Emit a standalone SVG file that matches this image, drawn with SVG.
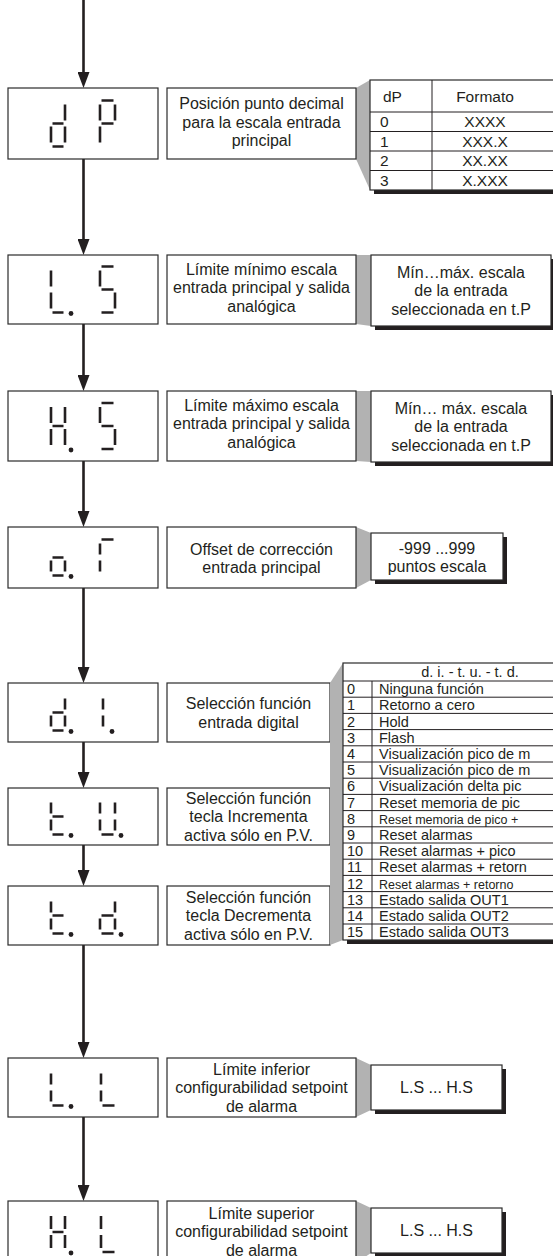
<svg xmlns="http://www.w3.org/2000/svg" width="553" height="1256" viewBox="0 0 553 1256">
<defs>
<style>
.bg{fill:#fff}
.box{fill:#fff;stroke:#2b2b2b;stroke-width:1.2}
.shadow{fill:#231f20}
.funnel{fill:#b2b2b2}
.seg{fill:none;stroke:#231f20;stroke-width:2.6;stroke-linecap:butt}
.dot{fill:#231f20}
.txt{font-family:"Liberation Sans",Arial,Helvetica,sans-serif;font-size:16px;fill:#231f20;text-anchor:middle}
.tab{font-family:"Liberation Sans",Arial,Helvetica,sans-serif;font-size:14.5px;fill:#231f20}
.mid{text-anchor:middle}
.small{font-size:12.5px}
.grid{fill:none;stroke:#231f20;stroke-width:1}
.conn{fill:none;stroke:#231f20;stroke-width:2.6}
</style>
<marker id="arrow" markerUnits="userSpaceOnUse" markerWidth="16" markerHeight="12" refX="8" refY="6" orient="auto">
<path d="M0,0 L16,6 L0,12 z" fill="#231f20"/>
</marker>
</defs>
<rect class="bg" x="0" y="0" width="553" height="1256"/>

<!-- flow arrows between parameter displays -->
<g id="connectors">
<path class="conn" d="M83.5,0 V80" marker-end="url(#arrow)"/>
<path class="conn" d="M83.5,159 V247" marker-end="url(#arrow)"/>
<path class="conn" d="M83.5,324 V383" marker-end="url(#arrow)"/>
<path class="conn" d="M83.5,461 V519" marker-end="url(#arrow)"/>
<path class="conn" d="M83.5,588 V675" marker-end="url(#arrow)"/>
<path class="conn" d="M83.5,742 V780" marker-end="url(#arrow)"/>
<path class="conn" d="M83.5,845 V878" marker-end="url(#arrow)"/>
<path class="conn" d="M83.5,945 V1050" marker-end="url(#arrow)"/>
<path class="conn" d="M83.5,1117 V1193" marker-end="url(#arrow)"/>
</g>

<!-- dP -->
<g id="node-dP">
<rect class="box" x="8" y="88" width="150" height="71"/>
<path class="seg" d="M65,104.5V120.5 M65,126.5V142.5 M52.5,146.5H63.5 M51,126.5V142.5 M52.5,123.5H63.5 M101.5,100.5H113.5 M115,104.5V120.5 M100,104.5V120.5 M101.5,123.5H113.5 M100,126.5V142.5"/>
<polygon class="funnel" points="356,88 370,80 370,190 356,159"/>
<rect class="box" x="167" y="88" width="189" height="71"/>
<text class="txt" x="261.5" y="109">Posición punto decimal</text>
<text class="txt" x="261.5" y="127.5">para la escala entrada</text>
<text class="txt" x="261.5" y="146">principal</text>
<rect class="shadow" x="374" y="84" width="200" height="110"/>
<rect class="box" x="370" y="80" width="200" height="110"/>
<path class="grid" d="M370,112H553 M370,131.5H553 M370,151H553 M370,170.5H553 M432,80V190"/>
<g class="tab" style="font-size:15.5px">
<text x="383" y="101.5">dP</text>
<text class="mid" x="485" y="101.5">Formato</text>
<text x="380" y="127">0</text><text class="mid" x="485" y="127">XXXX</text>
<text x="380" y="146.5">1</text><text class="mid" x="485" y="146.5">XXX.X</text>
<text x="380" y="166">2</text><text class="mid" x="485" y="166">XX.XX</text>
<text x="380" y="185.5">3</text><text class="mid" x="485" y="185.5">X.XXX</text>
</g>
</g>

<!-- L.S -->
<g id="node-LS">
<rect class="box" x="8" y="255" width="150" height="69"/>
<path class="seg" d="M51,270.5V286.5 M51,292.5V308.5 M52.5,312.5H63.5 M101.5,266.5H113.5 M100,270.5V286.5 M101.5,289.5H113.5 M115,292.5V308.5 M101.5,312.5H113.5"/>
<circle class="dot" cx="71" cy="313.5" r="2.4"/>
<polygon class="funnel" points="356,255 371,255 371,326 356,324"/>
<rect class="box" x="167" y="255" width="189" height="69"/>
<text class="txt" x="261.5" y="274.5">Límite mínimo escala</text>
<text class="txt" x="261.5" y="293">entrada principal y salida</text>
<text class="txt" x="261.5" y="311.5">analógica</text>
<rect class="shadow" x="375" y="259" width="180" height="71"/>
<rect class="box" x="371" y="255" width="180" height="71"/>
<text class="txt" x="461" y="277.5">Mín…máx. escala</text>
<text class="txt" x="461" y="296">de la entrada</text>
<text class="txt" x="461" y="314.5">seleccionada en t.P</text>
</g>

<!-- H.S -->
<g id="node-HS">
<rect class="box" x="8" y="391" width="150" height="70"/>
<path class="seg" d="M51,407V423 M65,407V423 M52.5,426H63.5 M51,429V445 M65,429V445 M101.5,403H113.5 M100,407V423 M101.5,426H113.5 M115,429V445 M101.5,449H113.5"/>
<circle class="dot" cx="71" cy="450" r="2.4"/>
<polygon class="funnel" points="356,391 371,391 371,462 356,461"/>
<rect class="box" x="167" y="391" width="189" height="70"/>
<text class="txt" x="261.5" y="410.5">Límite máximo escala</text>
<text class="txt" x="261.5" y="429">entrada principal y salida</text>
<text class="txt" x="261.5" y="447.5">analógica</text>
<rect class="shadow" x="375" y="395" width="180" height="71"/>
<rect class="box" x="371" y="391" width="180" height="71"/>
<text class="txt" x="461" y="413.5">Mín… máx. escala</text>
<text class="txt" x="461" y="432">de la entrada</text>
<text class="txt" x="461" y="450.5">seleccionada en t.P</text>
</g>

<!-- o.F -->
<g id="node-oF">
<rect class="box" x="8" y="527" width="150" height="61"/>
<path class="seg" d="M52.5,557.5H63.5 M51,560.5V571.5 M65,560.5V571.5 M52.5,575.5H63.5 M101.5,539.5H113.5 M100,543.5V554.5 M100,560.5V571.5"/>
<circle class="dot" cx="71" cy="576.5" r="2.4"/>
<polygon class="funnel" points="356,527 371,533 371,580 356,588"/>
<rect class="box" x="167" y="527" width="189" height="61"/>
<text class="txt" x="261.5" y="554.5">Offset de corrección</text>
<text class="txt" x="261.5" y="573">entrada principal</text>
<rect class="shadow" x="375" y="537" width="132" height="47"/>
<rect class="box" x="371" y="533" width="132" height="47"/>
<text class="txt" x="437" y="553.5">-999 ...999</text>
<text class="txt" x="437" y="572">puntos escala</text>
</g>

<!-- d.i. -->
<g id="node-di">
<rect class="box" x="8" y="683" width="150" height="59"/>
<path class="seg" d="M65,698.5V709.5 M65,715.5V726.5 M52.5,730.5H63.5 M51,715.5V726.5 M52.5,712.5H63.5 M103,698.5V709.5 M103,715.5V726.5"/>
<circle class="dot" cx="71" cy="731.5" r="2.4"/>
<circle class="dot" cx="112" cy="731.5" r="2.4"/>
<rect class="box" x="167" y="683" width="163" height="59"/>
<text class="txt" x="248.5" y="709">Selección función</text>
<text class="txt" x="248.5" y="727.5">entrada digital</text>
</g>

<!-- t.u. -->
<g id="node-tu">
<rect class="box" x="8" y="788" width="150" height="57"/>
<path class="seg" d="M51,802.5V813.5 M51,819.5V830.5 M52.5,816.5H63.5 M52.5,834.5H63.5 M100,802.5V813.5 M115,802.5V813.5 M100,819.5V830.5 M115,819.5V830.5 M101.5,834.5H113.5"/>
<circle class="dot" cx="71" cy="835.5" r="2.4"/>
<circle class="dot" cx="121" cy="835.5" r="2.4"/>
<rect class="box" x="167" y="788" width="163" height="57"/>
<text class="txt" x="248.5" y="803.5">Selección función</text>
<text class="txt" x="248.5" y="822">tecla Incrementa</text>
<text class="txt" x="248.5" y="840.5">activa sólo en P.V.</text>
</g>

<!-- t.d. -->
<g id="node-td">
<rect class="box" x="8" y="886" width="150" height="59"/>
<path class="seg" d="M51,901.5V912.5 M51,918.5V929.5 M52.5,915.5H63.5 M52.5,933.5H63.5 M115,901.5V912.5 M115,918.5V929.5 M101.5,933.5H113.5 M100,918.5V929.5 M101.5,915.5H113.5"/>
<circle class="dot" cx="71" cy="934.5" r="2.4"/>
<circle class="dot" cx="121" cy="934.5" r="2.4"/>
<rect class="box" x="167" y="886" width="163" height="59"/>
<text class="txt" x="248.5" y="902.5">Selección función</text>
<text class="txt" x="248.5" y="921">tecla Decrementa</text>
<text class="txt" x="248.5" y="939.5">activa sólo en P.V.</text>
</g>

<!-- function table shared by d.i., t.u. and t.d. -->
<g id="table-functions">
<polygon class="funnel" points="330,683 343,663 343,940 330,945"/>
<rect class="shadow" x="347" y="667" width="260" height="277"/>
<rect class="box" x="343" y="663" width="260" height="277"/>
<path class="grid" d="M343,681H553 M343,697.2H553 M343,713.4H553 M343,729.6H553 M343,745.8H553 M343,762H553 M343,778.2H553 M343,794.4H553 M343,810.6H553 M343,826.8H553 M343,843H553 M343,859.2H553 M343,875.4H553 M343,891.6H553 M343,907.8H553 M343,924H553 M372,681V940"/>
<g class="tab">
<text class="mid" x="470" y="677">d. i. - t. u. - t. d.</text>
<text x="347" y="694.1">0</text><text x="379" y="694.1">Ninguna función</text>
<text x="347" y="710.3">1</text><text x="379" y="710.3">Retorno a cero</text>
<text x="347" y="726.5">2</text><text x="379" y="726.5">Hold</text>
<text x="347" y="742.7">3</text><text x="379" y="742.7">Flash</text>
<text x="347" y="758.9">4</text><text x="379" y="758.9">Visualización pico de m</text>
<text x="347" y="775.1">5</text><text x="379" y="775.1">Visualización pico de m</text>
<text x="347" y="791.3">6</text><text x="379" y="791.3">Visualización delta pic</text>
<text x="347" y="807.5">7</text><text x="379" y="807.5">Reset memoria de pic</text>
<text x="347" y="823.7">8</text><text class="small" x="379" y="823.7">Reset memoria de pico +</text>
<text x="347" y="839.9">9</text><text x="379" y="839.9">Reset alarmas</text>
<text x="347" y="856.1">10</text><text x="379" y="856.1">Reset alarmas + pico</text>
<text x="347" y="872.3">11</text><text x="379" y="872.3">Reset alarmas + retorn</text>
<text x="347" y="888.5">12</text><text class="small" x="379" y="888.5">Reset alarmas + retorno</text>
<text x="347" y="904.7">13</text><text x="379" y="904.7">Estado salida OUT1</text>
<text x="347" y="920.9">14</text><text x="379" y="920.9">Estado salida OUT2</text>
<text x="347" y="937.1">15</text><text x="379" y="937.1">Estado salida OUT3</text>
</g>
</g>

<!-- L.L -->
<g id="node-LL">
<rect class="box" x="8" y="1058" width="150" height="59"/>
<path class="seg" d="M51,1073.5V1084.5 M51,1090.5V1101.5 M52.5,1105.5H63.5 M101,1073.5V1084.5 M101,1090.5V1101.5 M102.5,1105.5H114.5"/>
<circle class="dot" cx="71" cy="1106.5" r="2.4"/>
<polygon class="funnel" points="356,1058 371,1065 371,1110 356,1117"/>
<rect class="box" x="167" y="1058" width="189" height="59"/>
<text class="txt" x="261.5" y="1074.5">Límite inferior</text>
<text class="txt" x="261.5" y="1093">configurabilidad setpoint</text>
<text class="txt" x="261.5" y="1111.5">de alarma</text>
<rect class="shadow" x="375" y="1069" width="131" height="45"/>
<rect class="box" x="371" y="1065" width="131" height="45"/>
<text class="txt" x="436.5" y="1093">L.S ... H.S</text>
</g>

<!-- H.L -->
<g id="node-HL">
<rect class="box" x="8" y="1201" width="150" height="62"/>
<path class="seg" d="M51,1216V1229 M65,1216V1229 M52.5,1232H63.5 M51,1235V1248 M65,1235V1248 M101,1216V1229 M101,1235V1248 M102.5,1252H114.5"/>
<circle class="dot" cx="71" cy="1253" r="2.4"/>
<polygon class="funnel" points="356,1201 371,1208 371,1253 356,1263"/>
<rect class="box" x="167" y="1201" width="189" height="62"/>
<text class="txt" x="261.5" y="1218.5">Límite superior</text>
<text class="txt" x="261.5" y="1237">configurabilidad setpoint</text>
<text class="txt" x="261.5" y="1255.5">de alarma</text>
<rect class="shadow" x="375" y="1212" width="131" height="45"/>
<rect class="box" x="371" y="1208" width="131" height="45"/>
<text class="txt" x="436.5" y="1236">L.S ... H.S</text>
</g>
</svg>
